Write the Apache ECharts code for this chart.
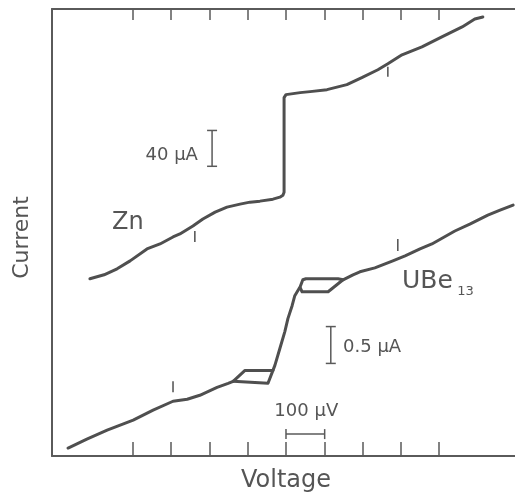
<!DOCTYPE html>
<html>
<head>
<meta charset="utf-8">
<script src="https://cdn.jsdelivr.net/npm/echarts@6/dist/echarts.min.js"></script>
<style>html,body{margin:0;padding:0;background:#fff;}#c{width:515px;height:498px;}</style>
</head>
<body>
<div id="c"></div>
<script>
// Voltage in µV (0 = centre of the Zn step), current in arbitrary plot units
const voltageTicks = [-400, -300, -200, -100, 0, 100, 200, 300, 400];

const znCurve = [
  [-512,178],[-475,182],[-441,188],[-407,196],[-363,208],[-329,213],[-295,220],[-277,223],
  [-243,231],[-217,238],[-185,245],[-154,250],[-120,253],[-94,255],[-68,256],[-34,258],
  [-16,260],[-8,262],[-5,265],[-5,360],[0,363],[5,365],[37,365],[63,366],[107,368],
  [159,373],[198,380],[240,388],[266,394],[303,403],[355,411],[407,421],[460,431],
  [493,439],[514,441]
];

const ube13Curve = [
  [-569,8],[-520,17],[-467,26],[-399,36],[-347,46],[-295,55],[-258,57],[-225,61],
  [-180,69],[-151,73],[-138,75],[-107,86],[-42,86],[-34,86],[-29,91],[-16,108],
  [-3,125],[5,138],[16,151],[23,161],[37,170],[44,177],[52,178],[136,178],[149,177],
  [175,182],[193,185],[232,189],[279,196],[311,201],[350,208],[381,213],[441,226],
  [480,233],[527,242],[559,247],[593,252]
];
// return branches of the two hysteresis loops
const ube13LoopLow = [[-138,75],[-133,73],[-47,73],[-34,86]];
const ube13LoopHigh = [[37,169],[42,165],[110,165],[123,169],[149,177]];

// small vertical marker ticks on the curves: [x, yLow, yHigh]
const curveMarks = [[-238,215,226],[266,381,391],[-295,64,75],[292,206,218]];

// vertical scale bars: [x, yLow, yHigh]
const vBars = [[-193,291,327],[117,93,130]];
// horizontal scale bar: [xStart, xEnd, y]
const hBars = [[0,101,22]];

// text labels: [x, y, text, size, align]
const labels = [
  [-454,234,'Zn',24,'left'],
  [303,175,'UBe',25,'left'],
  [447,165,'13',13,'left'],
  [-230,302,'40 µA',18,'right'],
  [149,109,'0.5 µA',18,'left'],
  [53,45,'100 µV',18,'center']
];

const ink = '#4f4f4f';
const txt = '#555555';
const FONT = 'DejaVu Sans';

const chart = echarts.init(document.getElementById('c'), null, {renderer:'canvas'});

function lineSeries(data){
  return {type:'line', data:data, showSymbol:false, symbol:'none', silent:true, animation:false,
    lineStyle:{color:ink, width:3, join:'round', cap:'round'}, z:3};
}

chart.setOption({
  animation:false,
  grid:{left:52, top:9, right:0, bottom:40, containLabel:false},
  xAxis:[{
    type:'value', min:-611, max:598, position:'bottom',
    name:'Voltage', nameLocation:'middle', nameGap:13,
    nameTextStyle:{fontFamily:FONT, fontSize:24, color:txt, verticalAlign:'top', padding:[0,0,0,5]},
    axisLine:{show:true, onZero:false, lineStyle:{color:'#5a5a5a', width:2}},
    axisTick:{show:true, inside:true, length:14, customValues:voltageTicks, lineStyle:{color:'#5a5a5a', width:1.5}},
    axisLabel:{show:false}, splitLine:{show:false}
  },{
    type:'value', min:-611, max:598, position:'top',
    axisLine:{show:true, onZero:false, lineStyle:{color:'#5a5a5a', width:2}},
    axisTick:{show:true, inside:true, length:11, customValues:voltageTicks, lineStyle:{color:'#5a5a5a', width:1.5}},
    axisLabel:{show:false}, splitLine:{show:false}
  }],
  yAxis:{
    type:'value', min:0, max:449, position:'left',
    name:'Current', nameLocation:'middle', nameGap:19, nameRotate:90,
    nameTextStyle:{fontFamily:FONT, fontSize:22, color:txt, padding:[0,10,0,0]},
    axisLine:{show:true, onZero:false, lineStyle:{color:'#5a5a5a', width:2}},
    axisTick:{show:false}, axisLabel:{show:false}, splitLine:{show:false}
  },
  series:[
    lineSeries(znCurve),
    lineSeries(ube13Curve),
    lineSeries(ube13LoopLow),
    lineSeries(ube13LoopHigh),
    {type:'custom', silent:true, animation:false, data:curveMarks, z:4,
      renderItem:function(p, api){
        const a = api.coord([api.value(0), api.value(1)]);
        const b = api.coord([api.value(0), api.value(2)]);
        return {type:'line', shape:{x1:a[0], y1:a[1], x2:b[0], y2:b[1]}, style:{stroke:ink, lineWidth:1.5}};
      }},
    {type:'custom', silent:true, animation:false, data:vBars, z:4,
      renderItem:function(p, api){
        const a = api.coord([api.value(0), api.value(1)]);
        const b = api.coord([api.value(0), api.value(2)]);
        const s = {stroke:'#5a5a5a', lineWidth:1.5};
        return {type:'group', children:[
          {type:'line', shape:{x1:a[0], y1:a[1], x2:b[0], y2:b[1]}, style:s},
          {type:'line', shape:{x1:a[0]-5, y1:a[1], x2:a[0]+5, y2:a[1]}, style:s},
          {type:'line', shape:{x1:b[0]-5, y1:b[1], x2:b[0]+5, y2:b[1]}, style:s}
        ]};
      }},
    {type:'custom', silent:true, animation:false, data:hBars, z:4,
      renderItem:function(p, api){
        const a = api.coord([api.value(0), api.value(2)]);
        const b = api.coord([api.value(1), api.value(2)]);
        const s = {stroke:'#5a5a5a', lineWidth:1.5};
        return {type:'group', children:[
          {type:'line', shape:{x1:a[0], y1:a[1], x2:b[0], y2:b[1]}, style:s},
          {type:'line', shape:{x1:a[0], y1:a[1]-5, x2:a[0], y2:a[1]+5}, style:s},
          {type:'line', shape:{x1:b[0], y1:b[1]-5, x2:b[0], y2:b[1]+5}, style:s}
        ]};
      }},
    {type:'custom', silent:true, animation:false, z:5,
      data:labels.map(function(l){return [l[0], l[1]];}),
      renderItem:function(p, api){
        const l = labels[p.dataIndex];
        const c = api.coord([api.value(0), api.value(1)]);
        return {type:'text', x:c[0], y:c[1], style:{text:l[2], fill:txt,
          font: l[3] + 'px "' + FONT + '"', align:l[4], verticalAlign:'middle'}};
      }}
  ]
});
</script>
</body>
</html>
